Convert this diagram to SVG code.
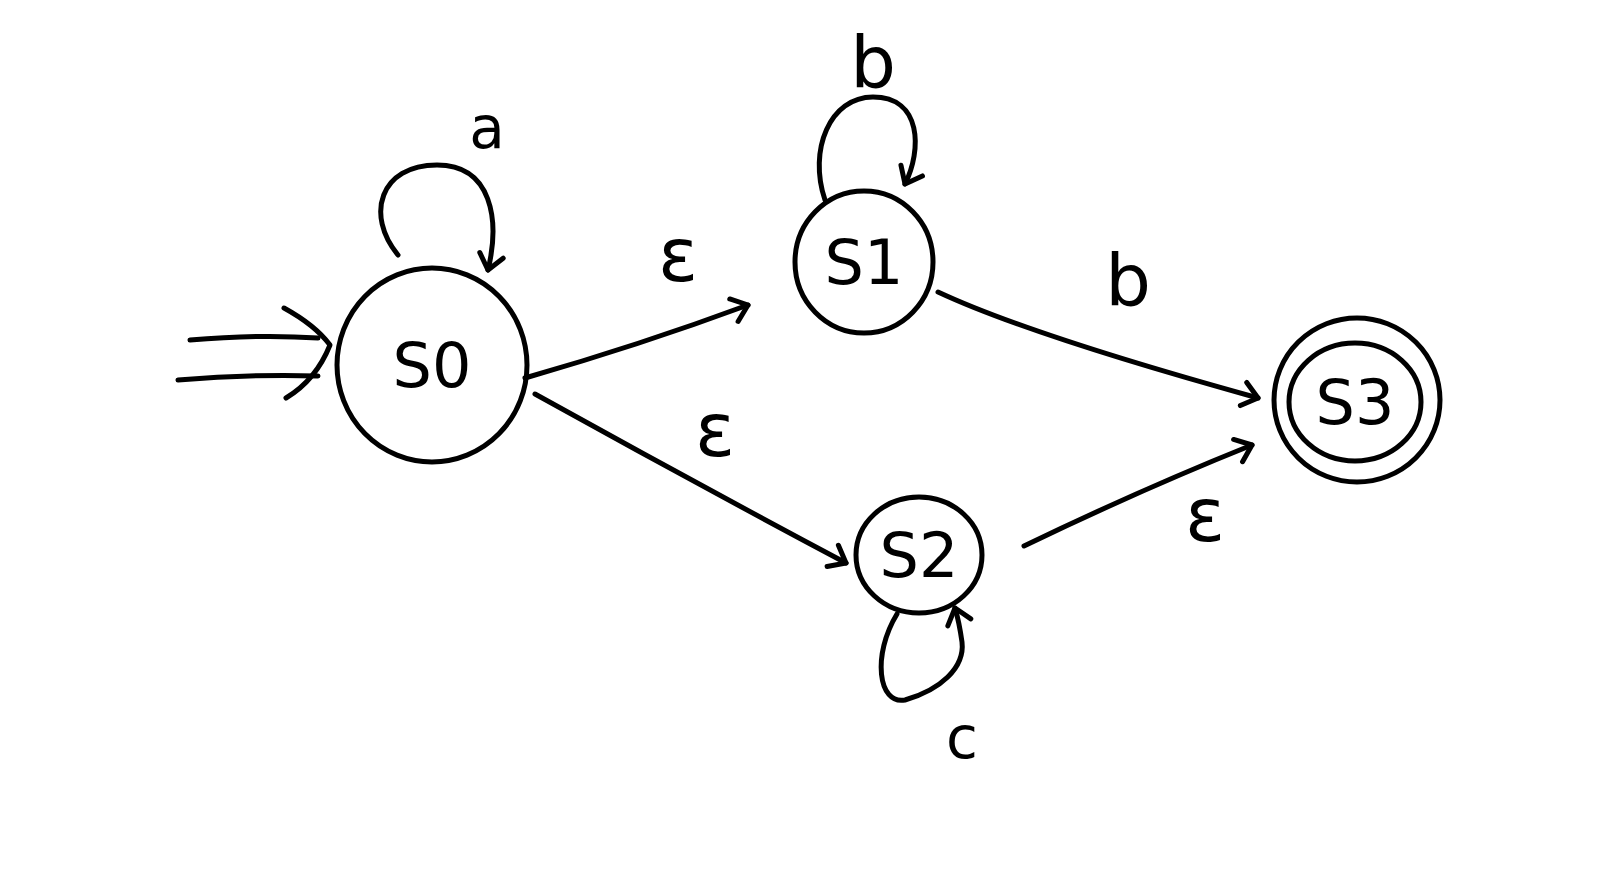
<svg xmlns="http://www.w3.org/2000/svg" width="1608" height="880" viewBox="0 0 1608 880">
<style>
.st{fill:none;stroke:#000;stroke-width:5;stroke-linecap:round;stroke-linejoin:round}
.nl{font-family:"DejaVu Sans","Liberation Sans",sans-serif;font-size:62px;fill:#000;text-anchor:middle;dominant-baseline:central}
.el{font-family:"DejaVu Sans","Liberation Sans",sans-serif;font-size:58px;fill:#000;text-anchor:middle;dominant-baseline:central}
.ep{font-size:74px}
</style>
<defs>
<marker id="arr" markerUnits="userSpaceOnUse" viewBox="-18 -15 21 30" markerWidth="21" markerHeight="30" refX="0" refY="0" orient="auto">
<path d="M-15,-12 L0,0 L-15,12" fill="none" stroke="#000" stroke-width="5" stroke-linecap="round" stroke-linejoin="round"/>
</marker>
</defs>
<rect width="1608" height="880" fill="#fff"/>
<g id="connectors">
<g id="start">
<path class="st" d="M190,340 Q260,334 318,338"/>
<path class="st" d="M178,380 Q250,374 318,376"/>
<path class="st" d="M284,308 Q315,325 330,345 Q316,380 286,398"/>
</g>
<g id="loop-s0"><path class="st" marker-end="url(#arr)" d="M398,255 C365,215 380,165 437,165 C492,165 500,220 488,270"/></g>
<text class="el" x="487" y="128">a</text>
<g id="loop-s1"><path class="st" marker-end="url(#arr)" d="M825,200 C808,150 830,97 873,97 C922,97 922,150 905,184"/></g>
<text class="el" x="873" y="62" style="font-size:72px">b</text>
<g id="loop-s2"><path class="st" marker-end="url(#arr)" d="M897,614 C872,655 878,705 905,700 C940,690 965,668 962,642 C960,628 958,618 955,608"/></g>
<text class="el" x="962" y="738">c</text>
<g id="e-s0-s1"><path class="st" marker-end="url(#arr)" d="M525,378 Q640,345 748,305"/></g>
<text class="el ep" x="678" y="255">ε</text>
<g id="e-s0-s2"><path class="st" marker-end="url(#arr)" d="M535,394 Q690,480 846,563"/></g>
<text class="el ep" x="715" y="430">ε</text>
<g id="e-s1-s3"><path class="st" marker-end="url(#arr)" d="M938,292 Q1030,335 1258,398"/></g>
<text class="el" x="1128" y="280" style="font-size:72px">b</text>
<g id="e-s2-s3"><path class="st" marker-end="url(#arr)" d="M1024,546 Q1140,490 1252,445"/></g>
<text class="el ep" x="1205" y="515">ε</text>
</g>
<g id="s0">
<ellipse class="st" cx="432" cy="365" rx="95" ry="97"/>
<text class="nl" x="432" y="365">S0</text>
</g>
<g id="s1">
<ellipse class="st" cx="864" cy="262" rx="69" ry="71"/>
<text class="nl" x="864" y="262">S1</text>
</g>
<g id="s2">
<ellipse class="st" cx="919" cy="555" rx="63" ry="58"/>
<text class="nl" x="919" y="555">S2</text>
</g>
<g id="s3">
<ellipse class="st" cx="1357" cy="400" rx="83" ry="82"/>
<ellipse class="st" cx="1355" cy="402" rx="66" ry="59"/>
<text class="nl" x="1355" y="402">S3</text>
</g>
</svg>
